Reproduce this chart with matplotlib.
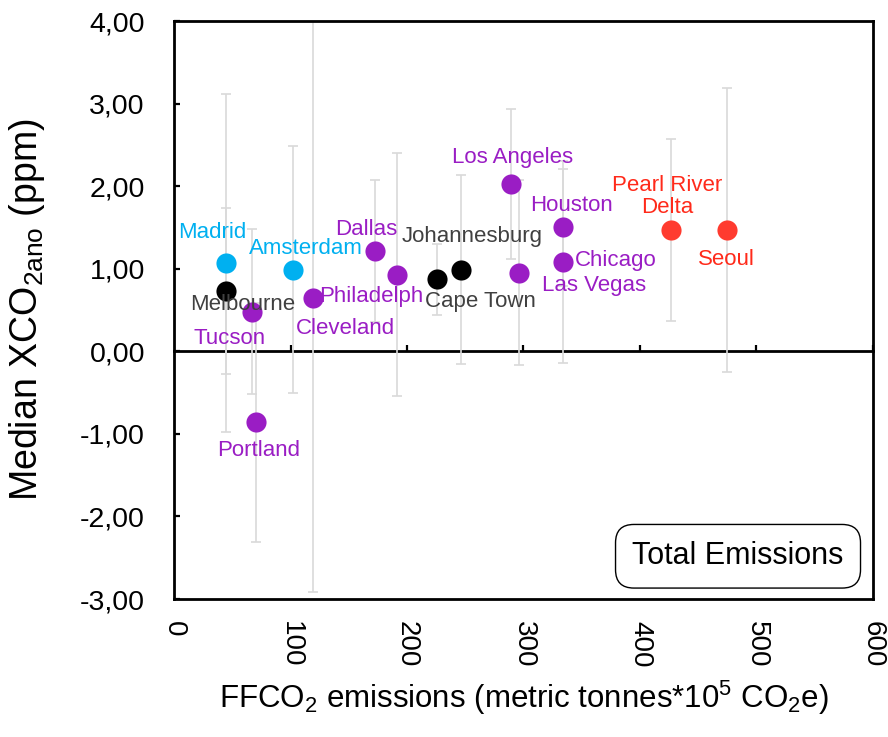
import numpy as np
import matplotlib
matplotlib.use("Agg")
import matplotlib.pyplot as plt
from matplotlib.ticker import FuncFormatter

plt.rcParams['font.family'] = ['Liberation Sans', 'DejaVu Sans']
plt.rcParams['mathtext.fontset'] = 'custom'
plt.rcParams['mathtext.rm'] = 'Liberation Sans'
plt.rcParams['mathtext.it'] = 'Liberation Sans:italic'

# city data: FFCO2 emissions, median XCO2 anomaly, error
cities = ['Madrid', 'Melbourne', 'Tucson', 'Portland', 'Amsterdam', 'Cleveland',
          'Dallas', 'Philadelph', 'Cape Town', 'Johannesburg', 'Los Angeles',
          'Las Vegas', 'Houston', 'Chicago', 'Pearl River\nDelta', 'Seoul']
emissions = [44.6, 44.3, 66.6, 70.0, 102.3, 118.9, 172.3, 191.7, 226.0, 246.4,
             289.4, 296.0, 333.8, 333.8, 426.6, 475.0]
xco2 = [1.07, 0.73, 0.48, -0.86, 0.99, 0.65, 1.22, 0.93, 0.87, 0.99,
        2.03, 0.95, 1.50, 1.08, 1.47, 1.47]
xco2_err = [2.05, 1.00, 1.00, 1.45, 1.50, 3.56, 0.86, 1.47, 0.43, 1.14,
            0.91, 1.12, 0.71, 1.22, 1.10, 1.72]
group = ['eu', 'other', 'us', 'us', 'eu', 'us', 'us', 'us', 'other', 'other',
         'us', 'us', 'us', 'us', 'asia', 'asia']

dot_colors = {'eu': '#00B0F0', 'us': '#9A1DC4', 'other': '#000000', 'asia': '#FF3B2F'}
txt_colors = {'eu': '#00B0F0', 'us': '#9A1DC4', 'other': '#404040', 'asia': '#FF2A1A'}

# label offsets from the marker, in points
label_offsets = [(-10, 22), (12, -10), (-16, -19), (2, -20), (9, 15), (24, -22),
                 (-6, 15), (-19, -16), (31, -16), (8, 24), (1, 19),
                 (54, -9), (6, 16), (38, 1), (-3, 24), (-1, -21)]

fig = plt.figure(figsize=(8.88, 7.37), dpi=100)
ax = fig.add_axes([0.196, 0.1872, 0.787, 0.7843])

ax.errorbar(emissions, xco2, yerr=xco2_err, fmt='none', ecolor='#D9D9D9',
            elinewidth=1.2, capsize=3.6, capthick=1.2, zorder=2)
for x, y, g in zip(emissions, xco2, group):
    ax.plot(x, y, 'o', ms=14.5, color=dot_colors[g], mec='none', zorder=3)

for name, x, y, g, off in zip(cities, emissions, xco2, group, label_offsets):
    ax.annotate(name, (x, y), xytext=off, textcoords='offset points',
                ha='center', va='center', fontsize=16, color=txt_colors[g],
                linespacing=1.05, zorder=4)

ax.set_xlim(0, 600)
ax.set_ylim(-3, 4)
ax.set_xticks(np.arange(0, 601, 100))
ax.set_yticks(np.arange(-3, 4.01, 1))
ax.yaxis.set_major_formatter(FuncFormatter(lambda v, p: f'{v:.2f}'.replace('.', ',')))
ax.tick_params(axis='x', length=0, pad=16, labelsize=20, labelrotation=270)
ax.tick_params(axis='y', direction='in', length=4.5, width=1.6, pad=21, labelsize=20.5)
for lab in ax.get_xticklabels():
    lab.set_va('top')
for sp in ax.spines.values():
    sp.set_linewidth(2.0)

# zero line with inward ticks
zero = ax.secondary_xaxis((0 - (-3)) / 7)
zero.set_xticks(np.arange(100, 601, 100))
zero.tick_params(direction='in', length=4.5, width=1.6, labelbottom=False)
zero.spines['bottom'].set_linewidth(2.0)

ax.set_xlabel(r'FFCO$_2$ emissions (metric tonnes*10$^5$ CO$_2$e)', fontsize=22.5, labelpad=8)
ax.set_ylabel(r'Median XCO$_{\mathrm{2ano}}$ (ppm)', fontsize=27, labelpad=0)
ax.yaxis.set_label_coords(-0.182, 0.5)

ax.text(0.807, 0.074, 'Total Emissions', transform=ax.transAxes, ha='center',
        va='center', fontsize=22,
        bbox=dict(boxstyle='round,pad=0.55,rounding_size=0.6', fc='white',
                  ec='black', lw=1.0))

fig.savefig('out.png', dpi=100)
